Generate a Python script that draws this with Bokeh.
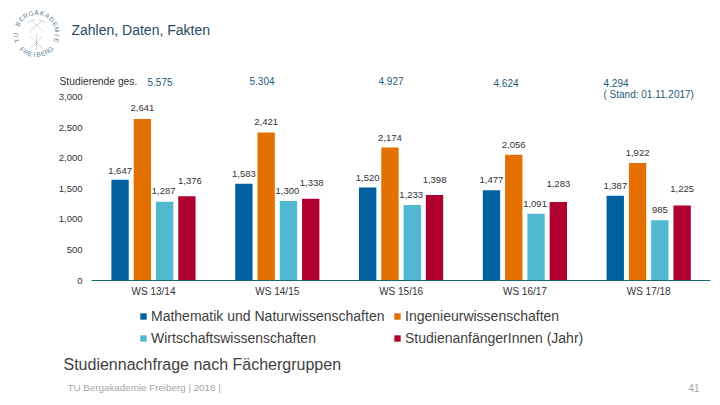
from bokeh.embed import file_html
from bokeh.resources import INLINE
from bokeh.plotting import figure
from bokeh.models import (ColumnDataSource, Range1d, FixedTicker, NumeralTickFormatter, LinearAxis,
                          Label, Legend, LegendItem, PolyAnnotation)
from bokeh.transform import dodge
import math

semesters = ["WS 13/14", "WS 14/15", "WS 15/16", "WS 16/17", "WS 17/18"]
math_nat = [1647, 1583, 1520, 1477, 1387]
ingenieur = [2641, 2421, 2174, 2056, 1922]
wirtschaft = [1287, 1300, 1233, 1091, 985]
anfaenger = [1376, 1338, 1398, 1283, 1225]
series_names = ["Mathematik und Naturwissenschaften", "Ingenieurwissenschaften",
                "Wirtschaftswissenschaften", "StudienanfängerInnen (Jahr)"]
totals = ["5.575", "5.304", "4.927", "4.624", "4.294"]
y_ticks = [0, 500, 1000, 1500, 2000, 2500, 3000]

colors = ["#0060a0", "#e37000", "#50b8d0", "#b00030"]
offsets = [-0.27, -0.09, 0.09, 0.27]
label_dx = [[0, 0, -1, 3], [0, 0, -1, 1], [0, 0, -1, 0], [0, 0, -1, 0], [0, 0, 0, 0]]
label_dy = [[-9, -11, -11, -15], [-10, -10, -10, -16], [-10, -10, -10, -15],
            [-10, -10, -10, -18], [-10, -10, -10, -17]]
FONT = "Liberation Sans"
TEAL = "#1f5a78"

W, H = 720, 405
px_per_group = 123.8
px_per_unit = 183.5 / 3000
x0_px, y0_px = 153.0, 280.0
p = figure(width=W, height=H, output_backend="svg", toolbar_location=None,
           x_axis_location=None, y_axis_location=None,
           x_range=Range1d(-x0_px / px_per_group, (W - x0_px) / px_per_group),
           y_range=Range1d(-(H - y0_px) / px_per_unit, y0_px / px_per_unit),
           min_border_left=0, min_border_right=0, min_border_top=0, min_border_bottom=0,
           outline_line_color=None, background_fill_color="white", border_fill_color="white")
p.xgrid.visible = False
p.ygrid.visible = False

cols = [math_nat, ingenieur, wirtschaft, anfaenger]
idx = list(range(len(semesters)))
src = ColumnDataSource(dict(x=idx, a=math_nat, b=ingenieur, c=wirtschaft, d=anfaenger))
items = []
for i, key in enumerate("abcd"):
    r = p.vbar(x=dodge("x", offsets[i]), top=key, width=0.14, source=src,
               fill_color=colors[i], line_color=None)
    items.append((series_names[i], r))
    ds = ColumnDataSource(dict(x=idx, y=cols[i], t=[f"{v:,}" for v in cols[i]],
                               dx=[row[i] for row in label_dx], dy=[row[i] for row in label_dy]))
    p.text(x=dodge("x", offsets[i]), y="y", text="t", source=ds, x_offset="dx", y_offset="dy",
           text_align="center", text_baseline="middle", text_font_size="9.5px", text_font={"value": FONT},
           text_color="#333333")

ax = LinearAxis(fixed_location=0, bounds=(-0.5, 4.5), ticker=FixedTicker(ticks=idx),
                major_label_overrides={i: s for i, s in zip(idx, semesters)})
ax.axis_line_color = "#1d6478"
ax.axis_line_width = 1
ax.major_tick_line_color = None
ax.minor_tick_line_color = None
ax.major_label_text_font = FONT
ax.major_label_text_font_size = "10px"
ax.major_label_text_color = "#333333"
ax.major_label_standoff = -1
p.add_layout(ax, "below")
ay = LinearAxis(fixed_location=-0.5, bounds=(0, 3000), ticker=FixedTicker(ticks=y_ticks),
                formatter=NumeralTickFormatter(format="0,0"))
ay.axis_line_color = None
ay.major_tick_line_color = None
ay.minor_tick_line_color = None
ay.major_label_text_font = FONT
ay.major_label_text_font_size = "9.5px"
ay.major_label_text_color = "#333333"
ay.major_label_standoff = 3
p.add_layout(ay, "left")


def txt(s, x, y, size, color, align="left", angle=0.0):
    p.add_layout(Label(x=x, y=y, x_units="canvas", y_units="canvas", text=s, text_font=FONT,
                       text_font_size=size, text_color=color, text_align=align,
                       text_baseline="middle", angle=angle))


txt("Zahlen, Daten, Fakten", 71, 29, "14px", "#2c4a60")
txt("Studierende ges.", 59, 81, "10.3px", "#333333")
tot_x = [147, 249, 378, 493, 603]
tot_y = [81, 80, 80, 82, 82]
for s, x, y in zip(totals, tot_x, tot_y):
    txt(s, x, y, "10px", TEAL)
txt("( Stand: 01.11.2017)", 603, 94, "10px", TEAL)
txt("Studiennachfrage nach Fächergruppen", 63, 364, "16px", "#404040")
txt("TU Bergakademie Freiberg | 2018 |", 67, 387, "9.8px", "#a6a6a6")
txt("41", 699, 387, "10px", "#a6a6a6", "right")

order = [0, 2, 1, 3]
legend = Legend(items=[LegendItem(label=items[k][0], renderers=[items[k][1]]) for k in order], ncols=2,
                location=(139, 59), background_fill_alpha=0, border_line_color=None,
                label_text_font=FONT, label_text_font_size="14px", label_text_color="#404040",
                glyph_width=8, glyph_height=8, label_standoff=4, padding=0, margin=0, spacing=6,
                label_height=14, label_width=236)
p.add_layout(legend, "center")

# Seal: ring of letters and crossed hammers
LOGO = "#5f7d96"
cx, cy, rad = 36, 33, 21
top = "TU BERGAKADEMIE"
for i, ch in enumerate(top):
    a = math.radians(200 - i * 220 / (len(top) - 1))
    txt(ch, cx + rad * math.cos(a), cy - rad * math.sin(a), "6.5px", LOGO, "center", a - math.pi / 2)
bottom = "FREIBERG"
for i, ch in enumerate(bottom):
    a = math.radians(228 + i * 84 / (len(bottom) - 1))
    txt(ch, cx + rad * math.cos(a), cy - rad * math.sin(a), "6.5px", LOGO, "center", a + math.pi / 2)
strokes = [((29, 31), (42, 20)), ((43, 31), (31, 20)), ((27, 22), (34, 19)), ((38, 19), (45, 22)),
           ((30, 48), (42, 36)), ((42, 48), (30, 36)), ((36, 34), (36, 50))]
for (x0, y0), (x1, y1) in strokes:
    p.add_layout(PolyAnnotation(xs=[x0, x1], ys=[y0, y1], xs_units="canvas", ys_units="canvas",
                                fill_alpha=0, line_color=LOGO, line_width=1))

open("out.html", "w").write(file_html(p, INLINE))
